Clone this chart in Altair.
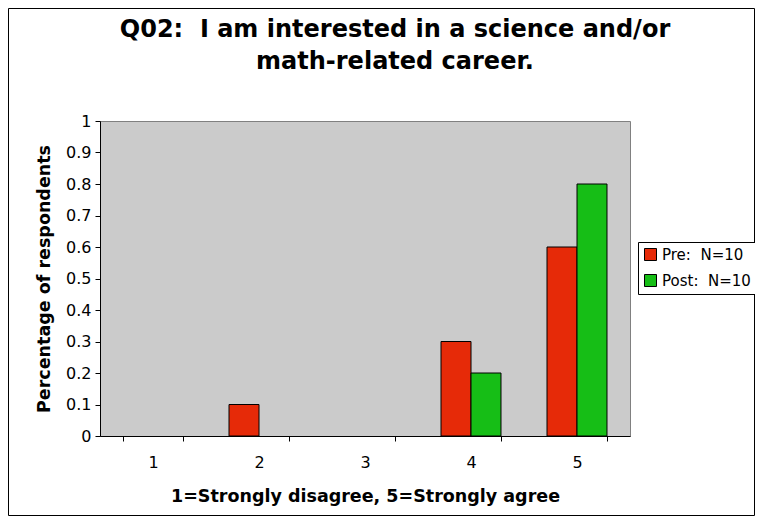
import altair as alt
import pandas as pd

categories = ["1", "2", "3", "4", "5"]
pre_values = [0.0, 0.1, 0.0, 0.3, 0.6]
post_values = [0.0, 0.0, 0.0, 0.2, 0.8]
series_names = ["Pre:\u00a0 N=10", "Post:\u00a0 N=10"]
y_ticks = [0, 0.1, 0.2, 0.3, 0.4, 0.5, 0.6, 0.7, 0.8, 0.9, 1.0]
title_lines = ["Q02:\u00a0 I am interested in a science and/or", "math-related career."]

rows = []
for c, v in zip(categories, pre_values):
    rows.append({"cat": c, "series": series_names[0], "value": v})
for c, v in zip(categories, post_values):
    rows.append({"cat": c, "series": series_names[1], "value": v})
df = pd.DataFrame(rows)

FONT = "DejaVu Sans"

bars = alt.Chart(df).transform_filter("datum.value > 0").mark_bar(
    stroke="black", strokeWidth=1
).encode(
    x=alt.X("cat:N", sort=categories,
            scale=alt.Scale(domain=categories, paddingInner=0.434, paddingOuter=0.217),
            axis=alt.Axis(title="1=Strongly disagree, 5=Strongly agree",
                          labelAngle=0, tickBand="extent", tickSize=5,
                          labelPadding=13, titlePadding=17,
                          domainColor="black", tickColor="black",
                          labelFontSize=16, titleFontSize=17.5,
                          titleFontWeight="bold", labelColor="black",
                          titleColor="black")),
    xOffset=alt.XOffset("series:N", sort=series_names,
                        scale=alt.Scale(domain=series_names)),
    y=alt.Y("value:Q", scale=alt.Scale(domain=[0, 1], nice=False),
            axis=alt.Axis(title="Percentage of respondents", values=y_ticks,
                          format="~g", grid=False, tickSize=5, labelPadding=4,
                          titlePadding=12, domainColor="black", tickColor="black",
                          labelFontSize=16, titleFontSize=17.5,
                          titleFontWeight="bold", labelColor="black",
                          titleColor="black")),
    color=alt.Color("series:N", sort=series_names,
                    scale=alt.Scale(domain=series_names, range=["#E62A08", "#16BE16"]),
                    legend=alt.Legend(title=None, orient="none", legendX=538, legendY=121,
                                      strokeColor="black", fillColor="white",
                                      padding=5, symbolType="square", symbolSize=144,
                                      symbolStrokeColor="black", symbolStrokeWidth=1,
                                      symbolOpacity=1, labelFontSize=15,
                                      labelColor="black", rowPadding=9,
                                      labelOffset=4, cornerRadius=0)),
)

frame = alt.Chart(alt.Data(values=[{}])).mark_rect(
    fill=None, stroke="black", strokeWidth=1, clip=False
).encode(
    x=alt.value(-91.5), x2=alt.value(654.5), y=alt.value(-112.5), y2=alt.value(394.5)
)

chart = alt.layer(frame, bars).properties(
    width=530, height=315,
    autosize=alt.AutoSizeParams(type="none"),
    padding={"left": 92, "top": 113, "right": 125, "bottom": 80},
    title=alt.Title(title_lines,
                    fontSize=24, font=FONT, fontWeight="bold", color="black",
                    anchor="middle", frame="group", dx=30, offset=-90,
                    lineHeight=32, baseline="bottom"),
).configure(font=FONT, background="white").configure_view(
    fill="#CBCBCB", stroke="#808080", strokeWidth=1
).configure_axis(labelFont=FONT, titleFont=FONT).configure_legend(labelFont=FONT)

chart.save("out.html", embed_options={"renderer": "svg", "actions": False})
